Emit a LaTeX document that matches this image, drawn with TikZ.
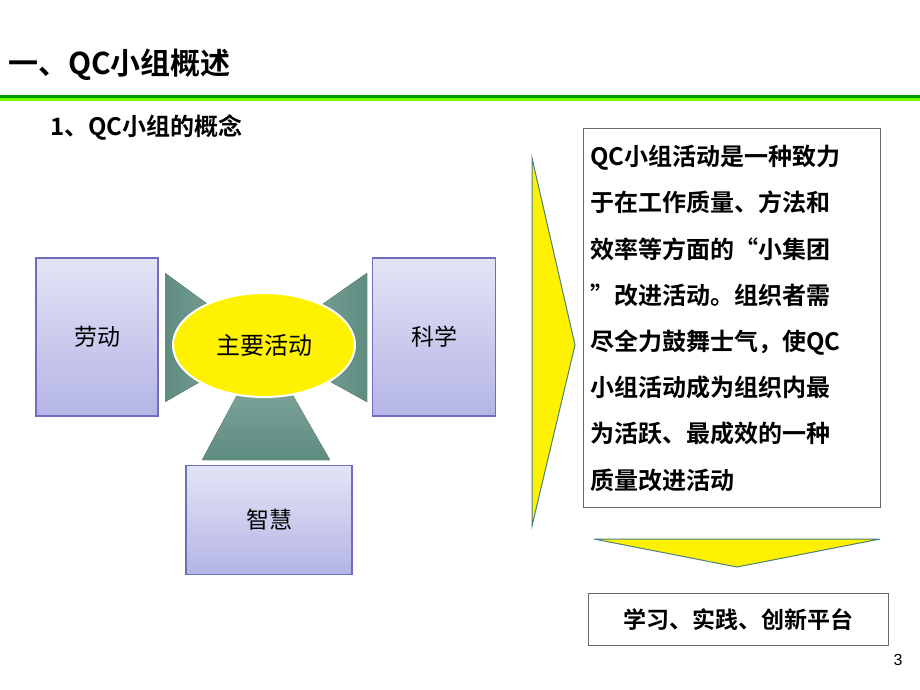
\documentclass[tikz,border=0pt]{standalone}
\usepackage{fontspec}
\setmainfont{Liberation Sans}
\newfontfamily\cjk{Noto Sans CJK SC}
\newfontfamily\cjkb{Noto Sans CJK SC Bold}
\usetikzlibrary{shapes.geometric}
\definecolor{bxtop}{HTML}{E4E4F6}
\definecolor{bxbot}{HTML}{B4B4E6}
\definecolor{bxline}{HTML}{6E6EC0}
\definecolor{conec}{HTML}{5F8C80}
\definecolor{conel}{HTML}{8FB0A8}
\begin{document}
\begin{tikzpicture}[x=1pt,y=-1pt,
  pbox/.style={draw=bxline, line width=1.2pt, top color=bxtop, bottom color=bxbot, inner sep=0pt, font=\cjk\fontsize{23}{26}\selectfont},
  cone/.style={draw=none},
  ttl/.style={anchor=west, inner sep=0pt},
  wbox/.style={draw=gray!80!black, line width=0.8pt, fill=white, inner sep=0pt},
  yarrow/.style={fill=yellow, draw=gray!60!teal, line width=1pt}]
\useasboundingbox (0,0) rectangle (920,690);
\fill[white] (0,0) rectangle (920,690);
% title
\node[ttl, font=\cjkb\fontsize{30}{32}\selectfont] (title) at (8,65) {一、QC小组概述};
\fill[green!60!black] (0,95) rectangle (920,98);
\fill[green!40!lime] (0,98) rectangle (920,101);
\node[ttl, font=\cjkb\fontsize{24}{26}\selectfont] (sub) at (50,128) {1、QC小组的概念};
% cones
\coordinate (c) at (264,345);
\fill[cone, left color=conec, right color=conel] (165,273) -- (165,402) -- (c) -- cycle;
\fill[cone, left color=conel, right color=conec] (367,273) -- (367,402) -- (c) -- cycle;
\fill[cone, top color=conel, bottom color=conec] (202,460) -- (330,460) -- (c) -- cycle;
% boxes
\node[pbox, minimum width=122, minimum height=158] (lab) at (97,337) {劳动};
\node[pbox, minimum width=123, minimum height=158] (sci) at (434,337) {科学};
\node[pbox, minimum width=166, minimum height=109] (wis) at (269,520) {智慧};
\node[ellipse, fill=yellow, draw=white, line width=2pt, minimum width=182, minimum height=104, inner sep=0pt, font=\cjk\fontsize{24}{26}\selectfont] (main) at (c) {主要活动};
% right side
\draw[yarrow] (532,158) -- (575,345) -- (532,526) -- cycle;
\node[wbox, minimum width=297, minimum height=379, anchor=north west] (desc) at (583,128) {};
\node[anchor=north west, inner sep=0pt, align=left, font=\cjkb\fontsize{24}{46.2}\selectfont] (dtext) at (590,145)
 {QC小组活动是一种致力\\于在工作质量、方法和\\效率等方面的“小集团\\”改进活动。组织者需\\尽全力鼓舞士气，使QC\\小组活动成为组织内最\\为活跃、最成效的一种\\质量改进活动};
\draw[yarrow] (594,539) -- (880,539) -- (737,567) -- cycle;
\node[wbox, minimum width=300, minimum height=52, anchor=north west, font=\cjkb\fontsize{23}{26}\selectfont] (plat) at (588,593) {学习、实践、创新平台};
\node[font=\fontsize{16}{18}\selectfont] (pg) at (898,660) {3};
\end{tikzpicture}
\end{document}
